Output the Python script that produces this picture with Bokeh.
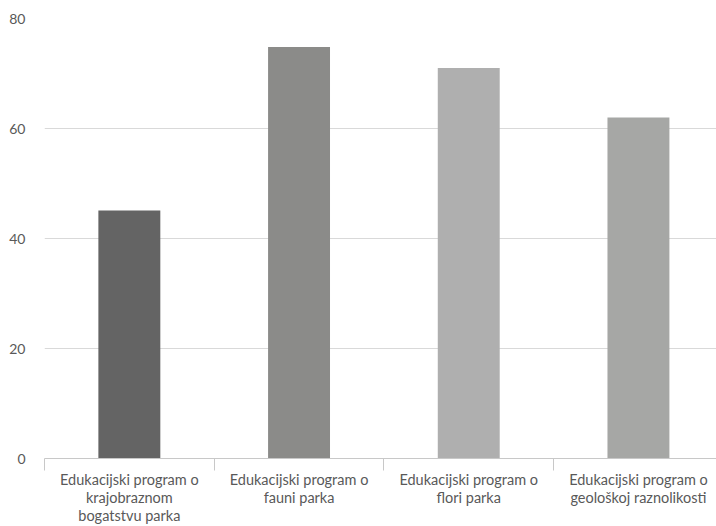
from bokeh.plotting import figure
from bokeh.models import Range1d, FixedTicker, ColumnDataSource
from bokeh.embed import file_html
from bokeh.resources import INLINE

categories = [
    "Edukacijski program o\nkrajobraznom\nbogatstvu parka",
    "Edukacijski program o\nfauni parka",
    "Edukacijski program o\nflori parka",
    "Edukacijski program o\ngeološkoj raznolikosti",
]
values = [45.1, 74.8, 71.0, 62.0]
colors = ["#646464", "#8b8b89", "#afafaf", "#a6a7a5"]
y_ticks = [0, 20, 40, 60, 80]

x_pos = [i + 0.5 for i in range(len(categories))]
bounds = [float(i) for i in range(len(categories) + 1)]

src = ColumnDataSource(dict(x=x_pos, top=values, color=colors))

p = figure(width=716, height=526, output_backend="svg", toolbar_location=None,
           x_range=Range1d(0, 3.96), y_range=Range1d(0, 80),
           min_border_left=44, min_border_top=18, min_border_right=0,
           min_border_bottom=0, outline_line_color=None)

p.vbar(x="x", top="top", width=0.365, bottom=0, fill_color="color",
       line_color=None, source=src)

font = "Lato"
lab_col = "#595959"

# y axis
p.yaxis.ticker = FixedTicker(ticks=y_ticks)
p.yaxis.axis_line_color = None
p.yaxis.major_tick_line_color = None
p.yaxis.minor_tick_line_color = None
p.yaxis.major_tick_out = 0
p.yaxis.major_tick_in = 0
p.yaxis.major_label_standoff = 19
p.yaxis.major_label_text_font = font
p.yaxis.major_label_text_font_size = "14px"
p.yaxis.major_label_text_color = lab_col

p.ygrid.ticker = FixedTicker(ticks=y_ticks)
p.ygrid.grid_line_color = "#d9d9d9"
p.xgrid.grid_line_color = None

# x axis
p.xaxis.ticker = FixedTicker(ticks=x_pos, minor_ticks=bounds)
p.xaxis.major_label_overrides = {x: c for x, c in zip(x_pos, categories)}
p.xaxis.axis_line_color = "#c8c8c8"
p.xaxis.major_tick_line_color = None
p.xaxis.major_tick_out = 0
p.xaxis.major_tick_in = 0
p.xaxis.minor_tick_line_color = "#c8c8c8"
p.xaxis.minor_tick_out = 12
p.xaxis.minor_tick_in = 0
p.xaxis.major_label_standoff = 0
p.xaxis.major_label_text_font = font
p.xaxis.major_label_text_font_size = "14.5px"
p.xaxis.major_label_text_line_height = 1.07
p.xaxis.major_label_text_color = lab_col

open("out.html", "w").write(file_html(p, INLINE))
